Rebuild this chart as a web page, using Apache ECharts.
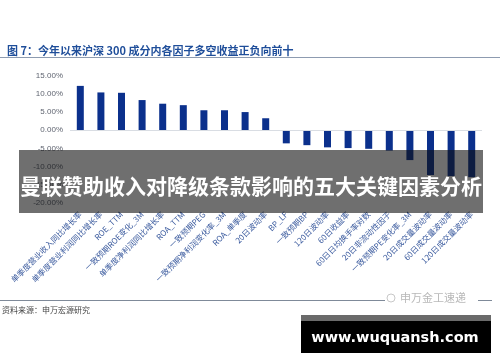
<!DOCTYPE html>
<html><head><meta charset="utf-8">
<script src="https://cdn.jsdelivr.net/npm/echarts@6/dist/echarts.min.js"></script>
<style>html,body{margin:0;padding:0;background:#fff}#c{width:500px;height:362px}</style>
</head><body><div id="c"></div>
<script>
const categories = ['单季度营业收入同比增长率','单季度营业利润同比增长率','ROE_TTM','一致预期ROE变化_3M','单季度净利润同比增长率','ROA_TTM','一致预期PEG','一致预期净利润变化率_3M','ROA_单季度','20日波动率','BP_LF','一致预期BP','120日波动率','60日收益率','60日日均换手率对数','20日非流动性因子','一致预期PE变化率_3M','20日成交量波动率','60日成交量波动率','120日成交量波动率'];
const values = [12.2, 10.4, 10.3, 8.3, 7.3, 6.9, 5.5, 5.5, 5.0, 3.3, -3.6, -4.1, -4.7, -4.9, -5.1, -5.6, -8.2, -12.3, -12.6, -12.9];
const yTicks = [-20, -15, -10, -5, 0, 5, 10, 15];
const titleText = '图 7：今年以来沪深 300 成分内各因子多空收益正负向前十';
const bannerText = '曼联赞助收入对降级条款影响的五大关键因素分析';
const sourceText = '资料来源：申万宏源研究';
const logoText = '申万金工速递';
const watermarkText = 'www.wuquansh.com';

const chart = echarts.init(document.getElementById('c'));
chart.setOption({
  backgroundColor: '#fff',
  animation: false,
  title: {
    text: titleText, left: 2, top: 40,
    textStyle: {fontSize: 11, fontWeight: 'bold', color: '#1f4e9a', fontFamily: 'Noto Sans CJK SC'}
  },
  grid: {left: 70, right: 18, top: 75.7, bottom: 159},
  xAxis: {
    type: 'category', data: categories,
    axisLine: {show: false}, axisTick: {show: false},
    axisLabel: {rotate: 45, interval: 0, fontSize: 8, color: '#3a5a9e', margin: 10, fontFamily: 'Noto Sans CJK SC'}
  },
  yAxis: {
    type: 'value', min: yTicks[0], max: yTicks[yTicks.length - 1], interval: 5,
    splitLine: {show: false},
    axisLine: {show: false}, axisTick: {show: false},
    axisLabel: {fontSize: 8, color: '#5f6470', margin: 7, formatter: v => v.toFixed(2) + '%', fontFamily: 'Liberation Sans'}
  },
  series: [{
    type: 'bar', data: values, barWidth: 7,
    itemStyle: {color: '#0b308c'},
    markLine: {
      silent: true, symbol: 'none', label: {show: false},
      lineStyle: {color: '#d9dde3', type: 'solid', width: 1},
      data: [{yAxis: 0}]
    }
  }],
  graphic: [
    {type: 'line', shape: {x1: 0, y1: 57.5, x2: 500, y2: 57.5}, style: {stroke: '#8d9bb0', lineWidth: 1}},
    {type: 'rect', shape: {x: 19, y: 150, width: 464, height: 63}, style: {fill: 'rgba(15,15,15,0.6)'}, z: 100},
    {type: 'text', x: 251, y: 186, z: 101,
      style: {text: bannerText, fill: '#ffffff', font: 'bold 21px "Noto Sans CJK SC"', textAlign: 'center', textVerticalAlign: 'middle'}},
    {type: 'line', shape: {x1: 0, y1: 300.5, x2: 385, y2: 300.5}, style: {stroke: '#7f8a99', lineWidth: 1}},
    {type: 'line', shape: {x1: 478, y1: 300.5, x2: 492, y2: 300.5}, style: {stroke: '#7f8a99', lineWidth: 1}},
    {type: 'circle', shape: {cx: 391, cy: 298, r: 4}, style: {fill: 'none', stroke: '#c8c8c8', lineWidth: 1}},
    {type: 'text', x: 400, y: 292, style: {text: logoText, fill: '#b8b8b8', font: '11px "Noto Sans CJK SC"'}},
    {type: 'text', x: 2, y: 306, style: {text: sourceText, fill: '#444', font: '8px "Noto Sans CJK SC"'}},
    {type: 'rect', shape: {x: 301, y: 315, width: 190, height: 38}, style: {fill: '#000'}, z: 100},
    {type: 'rect', shape: {x: 301, y: 315, width: 190, height: 6}, style: {fill: '#6a6a6a'}, z: 101},
    {type: 'text', x: 395, y: 338, z: 102,
      style: {text: watermarkText, fill: '#fff', font: 'bold 14.5px "DejaVu Sans"', textAlign: 'center', textVerticalAlign: 'middle'}}
  ]
});
</script></body></html>
